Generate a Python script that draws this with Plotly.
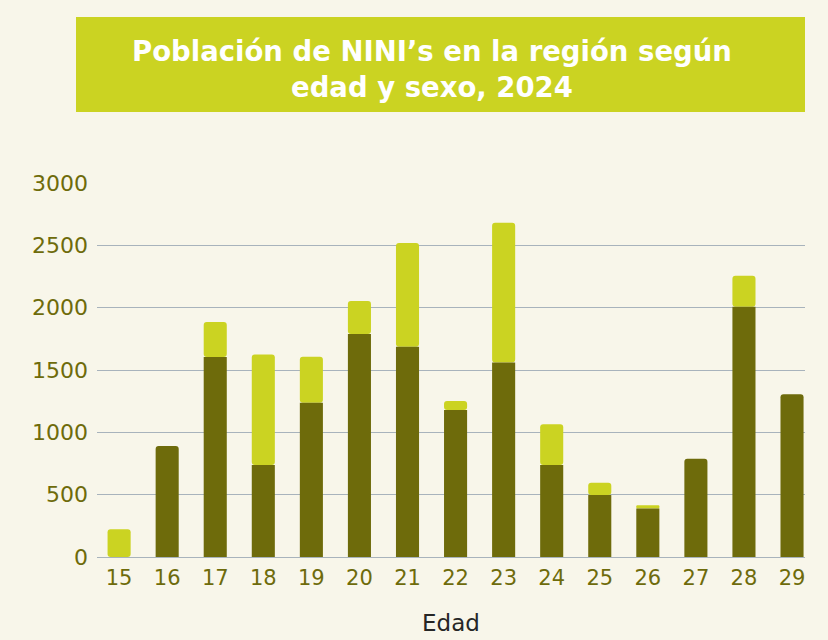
import plotly.graph_objects as go

edades = [15, 16, 17, 18, 19, 20, 21, 22, 23, 24, 25, 26, 27, 28, 29]
oscuro = [0, 890, 1605, 738, 1237, 1788, 1686, 1179, 1561, 738, 497, 390, 788, 2007, 1305]
claro = [222, 0, 280, 887, 369, 265, 832, 72, 1120, 326, 99, 25, 0, 249, 0]
ytick_vals = [0, 500, 1000, 1500, 2000, 2500, 3000]

BG = "#F8F6EA"
DARK = "#6E6B0B"
LIGHT = "#CBD322"
OLIVE = "#6E6B0B"
GRID = "#A8B3BC"
FONT = "DejaVu Sans, sans-serif"

# light segment sits on top of the dark one; drawn from the dark top upward
fig = go.Figure()
fig.add_trace(go.Bar(x=edades, y=claro, base=oscuro,
                     marker=dict(color=LIGHT, line=dict(width=0)),
                     width=0.48, showlegend=False, hoverinfo="x+y"))
fig.add_trace(go.Bar(x=edades, y=oscuro,
                     marker=dict(color=DARK, line=dict(width=0)),
                     width=0.48, showlegend=False, hoverinfo="x+y"))

W, H = 828, 640
L, R, T, B = 97, 23, 183, 83
pw, ph = W - L - R, H - T - B

def px(x):
    return (x - L) / pw

def py(y):
    return (H - B - y) / ph

fig.update_layout(
    width=W, height=H,
    barmode="overlay",
    barcornerradius=3,
    paper_bgcolor=BG, plot_bgcolor=BG,
    margin=dict(l=L, r=R, t=T, b=B, autoexpand=False),
    font=dict(family=FONT, color=OLIVE),
    xaxis=dict(
        range=[14.54, 29.27],
        tickmode="array", tickvals=edades, ticktext=[str(e) for e in edades],
        tickfont=dict(size=21, color=OLIVE, family=FONT),
        showgrid=False, zeroline=False, showline=False, ticks="",
        ticklabelstandoff=6,
        title=dict(text="Edad", font=dict(size=23, color="#262626", family=FONT), standoff=25),
    ),
    yaxis=dict(
        range=[0, 3000],
        tickmode="array", tickvals=ytick_vals, ticktext=[str(v) for v in ytick_vals],
        tickfont=dict(size=22, color=OLIVE, family=FONT),
        showgrid=True, gridcolor=GRID, gridwidth=1.3,
        zeroline=True, zerolinecolor=GRID, zerolinewidth=1.3,
        showline=False, ticks="", ticklabelstandoff=8,
    ),
    shapes=[dict(
        type="rect", xref="paper", yref="paper",
        x0=px(76), x1=px(805), y0=py(112), y1=py(17),
        fillcolor=LIGHT, line=dict(width=0), layer="below",
    )],
    annotations=[dict(
        xref="paper", yref="paper", x=px(432), y=py(69),
        xanchor="center", yanchor="middle", showarrow=False,
        text="<b>Población de NINI’s en la región según<br>edad y sexo, 2024</b>",
        font=dict(size=27.5, color="white", family=FONT),
        align="center",
    )],
)

fig.write_html("out.html", config={"displayModeBar": False},
               post_script="document.body.style.margin='0';document.body.style.background='%s';" % BG)
